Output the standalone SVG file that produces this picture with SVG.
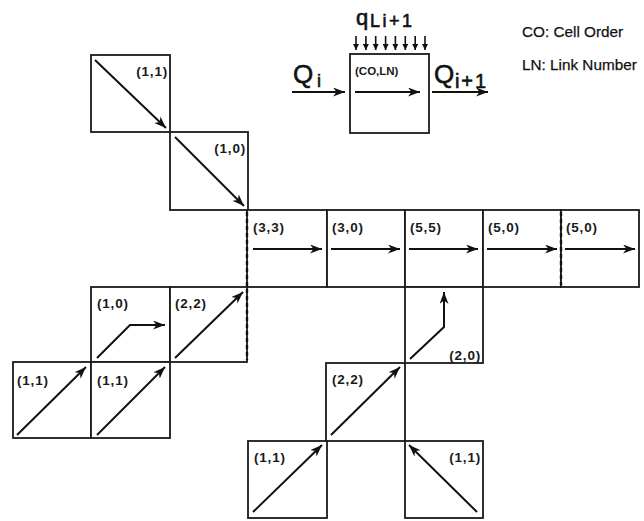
<svg xmlns="http://www.w3.org/2000/svg" width="644" height="521" viewBox="0 0 644 521">
<defs>
<style>
.cell{fill:#fff;stroke:#1a1a1a;stroke-width:1.8}
.lbl{font-family:"Liberation Sans",Arial,sans-serif;font-size:13.5px;font-weight:bold;fill:#1a1a1a;letter-spacing:0.8px}
.arr{fill:none;stroke:#111;stroke-width:2;marker-end:url(#ah)}
.sarr{fill:none;stroke:#111;stroke-width:1.6;marker-end:url(#sh)}
.dash{stroke:#111;stroke-width:2.4;stroke-dasharray:4 3}
.big{font-family:"Liberation Sans",Arial,sans-serif;fill:#111;stroke:#111;stroke-width:0.6}
.leg{font-family:"Liberation Sans",Arial,sans-serif;font-size:15.3px;fill:#111;stroke:#111;stroke-width:0.25}
</style>
<marker id="ah" markerUnits="userSpaceOnUse" markerWidth="14" markerHeight="10" refX="12" refY="4.5" orient="auto" viewBox="0 0 14 10">
<path d="M0,0 L12,4.5 L0,9 L3.5,4.5 z" fill="#111"/>
</marker>
<marker id="sh" markerUnits="userSpaceOnUse" markerWidth="6" markerHeight="6" refX="6" refY="3" orient="auto" viewBox="0 0 6 6">
<path d="M0,0 L6,3 L0,6 z" fill="#111"/>
</marker>
</defs>
<rect width="644" height="521" fill="#fff"/>

<g id="legend">
<rect class="cell" x="350" y="54" width="79" height="79"/>
<text class="lbl" x="355" y="75" style="font-size:11.5px;letter-spacing:0">(CO,LN)</text>
<text class="big" x="293" y="83" font-size="26">Q</text>
<text class="big" x="317" y="87" font-size="18">i</text>
<text class="big" x="434" y="83" font-size="26">Q</text>
<text class="big" x="455" y="88" font-size="20" textLength="31">i+1</text>
<text class="big" x="356" y="25" font-size="22">q</text>
<text class="big" x="370" y="27" font-size="18" textLength="42">Li+1</text>
<text class="leg" x="522" y="37">CO: Cell Order</text>
<text class="leg" x="522" y="70">LN: Link Number</text>
<g id="legend-flow">
<path class="arr" d="M292,92 H345"/>
<path class="arr" d="M355,92 H420"/>
<path class="arr" d="M432,92 H488"/>
<path class="sarr" d="M356,36 V50"/>
<path class="sarr" d="M365.9,36 V50"/>
<path class="sarr" d="M375.7,36 V50"/>
<path class="sarr" d="M385.6,36 V50"/>
<path class="sarr" d="M395.4,36 V50"/>
<path class="sarr" d="M405.3,36 V50"/>
<path class="sarr" d="M415.2,36 V50"/>
<path class="sarr" d="M425,36 V50"/>
</g>
</g>

<g id="cell-a"><rect class="cell" x="91" y="55" width="79" height="77"/><text class="lbl" x="168" y="76" text-anchor="end">(1,1)</text></g>
<g id="cell-b"><rect class="cell" x="170" y="132" width="78" height="78"/><text class="lbl" x="246" y="153" text-anchor="end">(1,0)</text></g>
<g id="cell-c1"><rect class="cell" x="247" y="210" width="80" height="77"/><text class="lbl" x="253" y="232">(3,3)</text></g>
<g id="cell-c2"><rect class="cell" x="327" y="210" width="78" height="77"/><text class="lbl" x="332" y="232">(3,0)</text></g>
<g id="cell-c3"><rect class="cell" x="405" y="210" width="78" height="77"/><text class="lbl" x="410" y="232">(5,5)</text></g>
<g id="cell-c4"><rect class="cell" x="483" y="210" width="78" height="77"/><text class="lbl" x="488" y="232">(5,0)</text></g>
<g id="cell-c5"><rect class="cell" x="561" y="210" width="78" height="77"/><text class="lbl" x="566" y="232">(5,0)</text></g>
<g id="cell-d1"><rect class="cell" x="91" y="287" width="79" height="75"/><text class="lbl" x="97" y="308">(1,0)</text></g>
<g id="cell-d2"><rect class="cell" x="170" y="287" width="77" height="75"/><text class="lbl" x="175" y="308">(2,2)</text></g>
<g id="cell-e1"><rect class="cell" x="13" y="362" width="78" height="76"/><text class="lbl" x="17" y="385">(1,1)</text></g>
<g id="cell-e2"><rect class="cell" x="91" y="362" width="79" height="76"/><text class="lbl" x="97" y="385">(1,1)</text></g>
<g id="cell-f"><rect class="cell" x="405" y="287" width="78" height="76"/><text class="lbl" x="481" y="360" text-anchor="end">(2,0)</text></g>
<g id="cell-g"><rect class="cell" x="326" y="363" width="79" height="78"/><text class="lbl" x="332" y="384">(2,2)</text></g>
<g id="cell-h1"><rect class="cell" x="248" y="441" width="79" height="77"/><text class="lbl" x="254" y="462">(1,1)</text></g>
<g id="cell-h2"><rect class="cell" x="405" y="441" width="78" height="77"/><text class="lbl" x="481" y="462" text-anchor="end">(1,1)</text></g>

<g id="boundaries">
<line class="dash" x1="247" y1="212" x2="247" y2="360"/>
<line class="dash" x1="561" y1="212" x2="561" y2="285"/>
</g>

<g id="connectors">
<path class="arr" d="M95,60 L166,128"/>
<path class="arr" d="M175,137 L244,206"/>
<path class="arr" d="M253,249 H322"/>
<path class="arr" d="M331,249 H400"/>
<path class="arr" d="M409,249 H478"/>
<path class="arr" d="M487,249 H557"/>
<path class="arr" d="M565,249 H635"/>
<path class="arr" d="M97,358 L130,325 H165"/>
<path class="arr" d="M175,358 L243,292"/>
<path class="arr" d="M17,435 L86,367"/>
<path class="arr" d="M97,435 L165,367"/>
<path class="arr" d="M410,359 L444,327 V292"/>
<path class="arr" d="M331,435 L400,367"/>
<path class="arr" d="M253,512 L322,445"/>
<path class="arr" d="M477,512 L409,445"/>
</g>
</svg>
